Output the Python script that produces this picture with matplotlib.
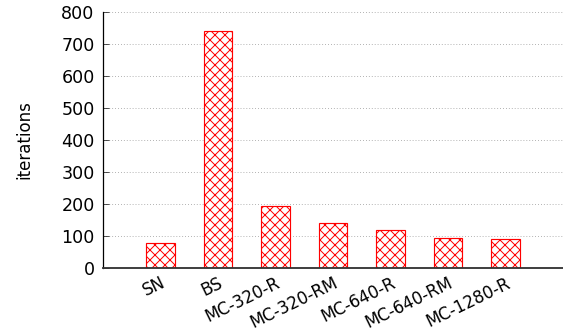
import matplotlib
matplotlib.use("Agg")
import matplotlib.pyplot as plt
from matplotlib.transforms import ScaledTranslation

# iteraciones por método
metodos = ["SN", "BS", "MC-320-R", "MC-320-RM", "MC-640-R", "MC-640-RM", "MC-1280-R"]
iteraciones = [79, 740, 193, 140, 119, 94, 90]
yticks = [0, 100, 200, 300, 400, 500, 600, 700, 800]

DPI = 60
plt.rcParams["hatch.color"] = "red"
plt.rcParams["hatch.linewidth"] = 1.2

fig = plt.figure(figsize=(563 / DPI, 331 / DPI), dpi=DPI)
ax = fig.add_axes([103 / 563, 1 - 268 / 331, 460 / 563, 256 / 331])

x = list(range(len(metodos)))
ax.bar(x, iteraciones, width=0.5, facecolor="white", edgecolor="red",
       hatch="xx", linewidth=1.4, zorder=3)

ax.set_xlim(-1, 7)
ax.set_ylim(0, 800)
ax.set_yticks(yticks)
ax.set_xticks(x)
ax.set_xticklabels(metodos, rotation=26, ha="right", va="top",
                   rotation_mode="anchor", fontsize=20)
# etiquetas rotadas un poco a la izquierda del tick
desplazamiento = ScaledTranslation(-4 / DPI, 0, fig.dpi_scale_trans)
for etiqueta in ax.get_xticklabels():
    etiqueta.set_transform(etiqueta.get_transform() + desplazamiento)
ax.tick_params(axis="y", direction="in", length=7, labelsize=21, pad=10)
ax.tick_params(axis="x", length=0, pad=7)

ax.grid(axis="y", linestyle=(0, (1, 2.5)), color="#999999", linewidth=1.0, zorder=0)
ax.spines["top"].set_visible(False)
ax.spines["right"].set_visible(False)
ax.spines["left"].set_linewidth(1.5)
ax.spines["bottom"].set_linewidth(2.2)
ax.spines["bottom"].set_color("#333333")
ax.spines["bottom"].set_zorder(4)

ax.set_ylabel("iterations", fontsize=20, labelpad=34)

fig.savefig("out.png", dpi=DPI)
